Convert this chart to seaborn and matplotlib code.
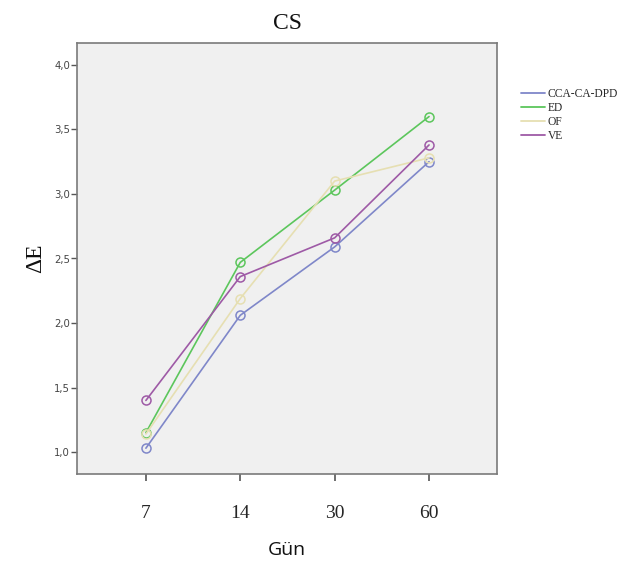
import matplotlib
matplotlib.use("Agg")
import matplotlib.pyplot as plt
from matplotlib.lines import Line2D
from matplotlib.ticker import FuncFormatter
import seaborn as sns
import pandas as pd

days = ["7", "14", "30", "60"]
groups = ["CCA-CA-DPD", "ED", "OF", "VE"]
cca_ca_dpd = [1.03, 2.06, 2.59, 3.25]
ed = [1.15, 2.47, 3.03, 3.60]
of = [1.14, 2.19, 3.10, 3.28]
ve = [1.40, 2.36, 2.66, 3.38]
colors = ["#7f87c9", "#5cc65c", "#e6dfb2", "#9e5aa6"]

values = {"CCA-CA-DPD": cca_ca_dpd, "ED": ed, "OF": of, "VE": ve}
df = pd.DataFrame(
    [(g, d, v) for g in groups for d, v in zip(days, values[g])],
    columns=["grup", "gun", "dE"],
)

sns.set_style("white")
plt.rcParams["font.family"] = ["DejaVu Sans"]

fig = plt.figure(figsize=(6.22, 5.72), dpi=100)
ax = fig.add_axes([77 / 622, 1 - 474 / 572, 420 / 622, 431 / 572])
ax.set_facecolor("#f0f0f0")

for g, c in zip(groups, colors):
    sub = df[df["grup"] == g]
    sns.lineplot(
        data=sub, x="gun", y="dE", ax=ax, color=c, lw=1.2,
        marker="o", markersize=6.5, markerfacecolor="none",
        markeredgecolor=c, markeredgewidth=1.1, legend=False,
    )

ax.set_xlim(-0.73, 3.72)
ax.set_ylim(0.83, 4.17)
ax.set_yticks([1.0, 1.5, 2.0, 2.5, 3.0, 3.5, 4.0])
ax.yaxis.set_major_formatter(FuncFormatter(lambda v, p: f"{v:.1f}".replace(".", ",")))

for s in ax.spines.values():
    s.set_color("#7a7a7a")
    s.set_linewidth(1.2)

ax.tick_params(axis="y", direction="out", length=4, width=1, color="#555555",
               labelsize=7.3, labelcolor="#444444", pad=1, left=True)
ax.tick_params(axis="x", direction="out", length=5, width=1.2, color="#555555",
               labelsize=14, pad=17, bottom=True)
for t in ax.get_xticklabels():
    t.set_fontfamily("Liberation Serif")

ax.set_xlabel("Gün", fontsize=14, fontfamily="Open Sans", labelpad=14, color="#111111")
ax.set_ylabel("ΔE", fontsize=17, fontfamily="Liberation Serif", labelpad=6, color="#111111")
ax.set_title("CS", fontsize=17, fontfamily="Liberation Serif", pad=10, color="#111111")

handles = [Line2D([0], [0], color=c, lw=1.3) for c in colors]
fig.legend(handles, groups, loc="upper left", bbox_to_anchor=(0.830, 0.855),
           frameon=False, prop={"family": "Liberation Serif", "size": 8.3},
           handlelength=2.1, handletextpad=0.25, labelspacing=0.2, borderaxespad=0)

fig.savefig("out.png", dpi=100, facecolor="white")
